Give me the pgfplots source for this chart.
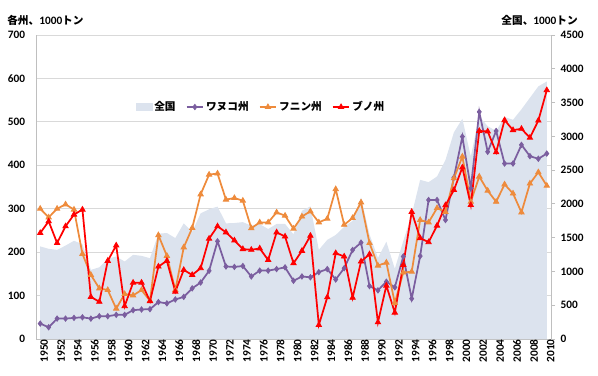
\documentclass[border=0pt]{standalone}
\usepackage{fontspec}
\setmainfont{Carlito}
\newfontfamily\jp{Noto Sans CJK JP}
\usepackage{pgfplots}
\usepackage{pgfplotstable}
\pgfplotsset{compat=1.18}
\definecolor{areac}{HTML}{DCE3EE}
\definecolor{purp}{HTML}{7B5E9F}
\definecolor{oran}{HTML}{EE8B3C}
\definecolor{redc}{HTML}{FF0000}
\definecolor{gridc}{HTML}{D9D9D9}
\definecolor{axisc}{HTML}{BFBFBF}

\pgfplotstableread{
year total
1950 1371
1951 1335
1952 1319
1953 1383
1954 1454
1955 1405
1956 1023
1957 1062
1958 1187
1959 1222
1960 1147
1961 1246
1962 1231
1963 1196
1964 1559
1965 1569
1966 1494
1967 1712
1968 1588
1969 1860
1970 1920
1971 1960
1972 1712
1973 1717
1974 1730
1975 1678
1976 1700
1977 1628
1978 1703
1979 1703
1980 1550
1981 1898
1982 1963
1983 1320
1984 1468
1985 1540
1986 1660
1987 1750
1988 2095
1989 1550
1990 1200
1991 1440
1992 1040
1993 1450
1994 1840
1995 2356
1996 2322
1997 2406
1998 2650
1999 3060
2000 3260
2001 2700
2002 3300
2003 3150
2004 3080
2005 3285
2006 3245
2007 3400
2008 3570
2009 3740
2010 3812
}\totaldata

\pgfplotstableread{
year wa fu bu
1950 35.5 300 244
1951 27 280 271
1952 47 300 221
1953 47 310 259.5
1954 48.6 298 286.5
1955 50 196 298
1956 47 147.5 97
1957 52.5 116.6 85.7
1958 52.5 112.7 180
1959 55.6 70 215.4
1960 55.6 103.5 75.7
1961 66.4 100.4 129.7
1962 68 112.7 129.7
1963 68.7 88 87
1964 85 239 166.8
1965 82 191.5 180
1966 91 112.7 109
1967 97 211 159
1968 116.6 255.6 147.5
1969 130 333 163
1970 157 378.5 231
1971 225 381 259.5
1972 167 321 245.6
1973 166 324.6 227
1974 168 318.5 207
1975 144 255 205.4
1976 157.5 268.5 208.5
1977 157.5 268.5 182
1978 161 291.5 245.6
1979 165 284 236
1980 134 254 174.5
1981 144 282 203
1982 142 294 237.7
1983 154 268.5 32.3
1984 161 277 96
1985 137 345 197.7
1986 163 263 190
1987 205 278.5 95
1988 222 314.6 178.5
1989 122 221 195
1990 112 169 38.5
1991 132 176 123
1992 119 83 60.8
1993 190 153 170.7
1994 93 155 292.7
1995 191 274 232.4
1996 320 268.5 223
1997 320 301.5 261
1998 274 292.7 308
1999 372 370 343
2000 466 420 395
2001 347 316 308.5
2002 523 374 479
2003 431 341.5 478
2004 479 316 430
2005 404 356 504
2006 404 335 481
2007 447 291.6 484
2008 421 358 463.5
2009 415 384 503
2010 427 353 573
}\statedata

\pgfplotsset{
  base/.style={
    scale only axis, width=386.25pt, height=228pt,
    xmin=1949.5, xmax=2010.5,
    at={(0,0)}, anchor=south west,
    /pgf/number format/assume math mode=true,
    /pgf/number format/1000 sep={},
    tick label style={font=\bfseries\fontsize{8.5}{10}\selectfont},
  }
}

\begin{document}
\begin{tikzpicture}
\path[use as bounding box] (-27pt,-27pt) rectangle (421.5pt,254.25pt);

% axis 1: grid, left axis, x axis
\begin{axis}[base, name=ax1,
  ymin=0, ymax=700, ytick={0,100,...,700},
  ymajorgrids, major grid style={draw=gridc, line width=0.7pt},
  axis x line*=bottom, axis y line*=left,
  axis line style={draw=axisc, line width=0.7pt},
  xtick={1950,1952,...,2010},
  major tick length=0pt,
  xticklabel style={rotate=90, anchor=east, inner sep=0pt, yshift=-3pt},
  yticklabel style={anchor=east, inner sep=0pt, xshift=-8pt},
]
\addplot[draw=none] coordinates {(1950,0)};
\end{axis}

% axis 2: right axis, national total as area
\begin{axis}[base,
  ymin=0, ymax=4500, ytick={0,500,...,4500},
  axis y line*=right, axis x line=none,
  axis line style={draw=axisc, line width=0.7pt},
  tick align=outside, major tick length=3pt,
  every tick/.style={draw=axisc, line width=0.7pt},
  yticklabel style={anchor=west, inner sep=0pt, xshift=4pt},
]
\addplot[fill=areac, draw=none] table[x=year, y=total] {\totaldata} \closedcycle;
\end{axis}

% axis 3: state lines and legend
\begin{axis}[base, hide axis,
  ymin=0, ymax=700,
  legend columns=4,
  legend style={at={(0.437,0.763)}, anchor=center, draw=none, fill=none,
    font=\jp\bfseries\fontsize{8}{10}\selectfont,
    /tikz/every even column/.append style={column sep=6pt},
    nodes={inner sep=1.5pt}},
  legend image code/.code={\draw[mark repeat=2,mark phase=2,#1] plot coordinates {(0cm,0cm) (0.22cm,0cm) (0.44cm,0cm)};},
]
\addlegendimage{legend image code/.code={\fill[areac] (0cm,-0.08cm) rectangle (0.42cm,0.09cm);}}
\addlegendentry{全国}
\addplot[purp, line width=1.3pt, mark=diamond*, mark size=2pt, mark options={fill=purp, line width=0.6pt}] table[x=year, y=wa] {\statedata};
\addlegendentry{ワヌコ州}
\addplot[oran, line width=1.3pt, mark=triangle*, mark size=2.3pt, mark options={fill=oran, line width=0.6pt}] table[x=year, y=fu] {\statedata};
\addlegendentry{フニン州}
\addplot[redc, line width=1.3pt, mark=triangle*, mark size=2.3pt, mark options={fill=redc, line width=0.6pt}] table[x=year, y=bu] {\statedata};
\addlegendentry{ブノ州}
\end{axis}

\node[anchor=west, inner sep=0pt] at ([xshift=-21.75pt, yshift=11.25pt]ax1.north west) {\bfseries{\jp\fontsize{8}{10}\selectfont 各州、}{\fontsize{8.5}{10}\selectfont 1000}{\jp\fontsize{8}{10}\selectfont トン}};
\node[anchor=east, inner sep=0pt] at ([xshift=20.25pt, yshift=11.25pt]ax1.north east) {\bfseries{\jp\fontsize{8}{10}\selectfont 全国、}{\fontsize{8.5}{10}\selectfont 1000}{\jp\fontsize{8}{10}\selectfont トン}};
\end{tikzpicture}
\end{document}
